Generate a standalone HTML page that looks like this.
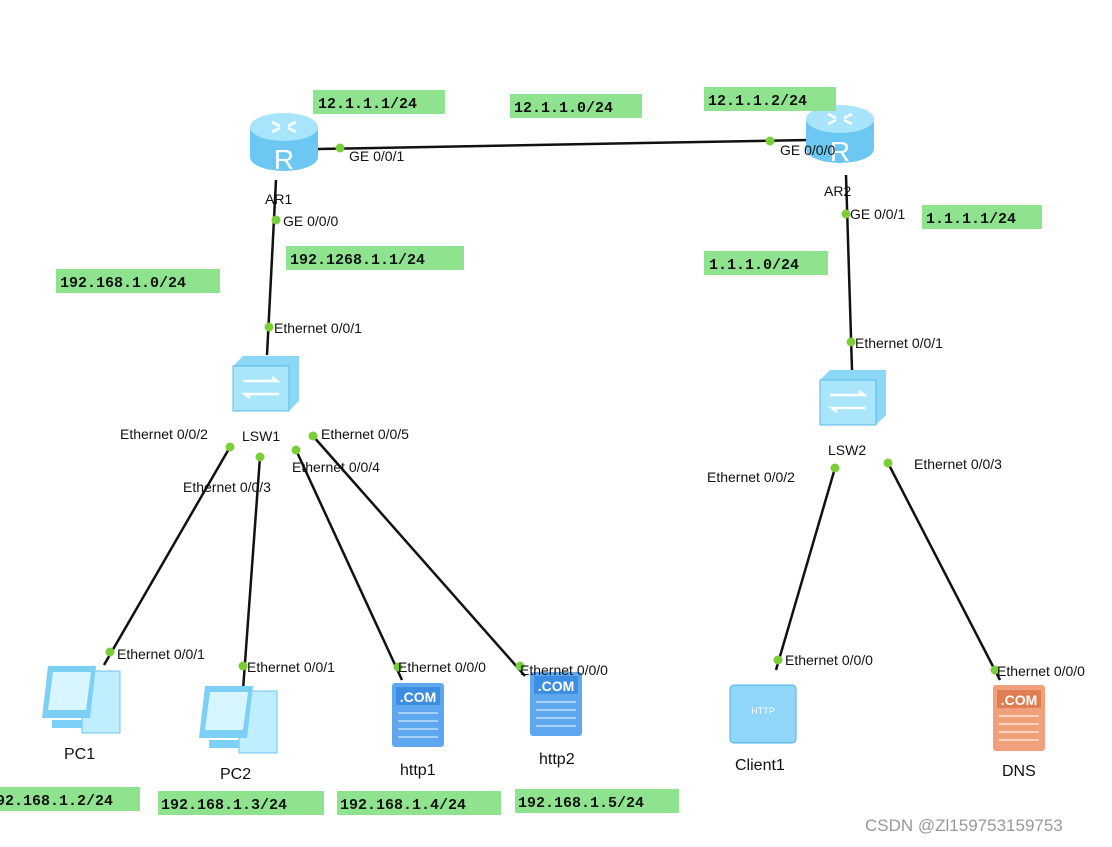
<!DOCTYPE html>
<html><head><meta charset="utf-8"><style>
body{margin:0;background:#fff;width:1112px;height:842px;overflow:hidden}
svg text{font-family:"Liberation Sans",sans-serif;font-size:14px;fill:#111}
.g{fill:#8fe38f}
.m{font-family:"Liberation Mono",monospace!important;font-size:15px!important;font-weight:bold}
</style></head><body>
<svg width="1112" height="842" xmlns="http://www.w3.org/2000/svg">
<defs>
<g id="router">
<path d="M0 15 L0 45 A34 14 0 0 0 68 45 L68 15 Z" fill="#6cc7f2"/>
<ellipse cx="34" cy="15" rx="34" ry="14" fill="#a8e4fb"/>
<text x="34" y="57" text-anchor="middle" style="font-size:28px;fill:#fff">R</text>
<path d="M22 10 l8 4 M46 10 l-8 4 M22 20 l8-4 M46 20 l-8-4" stroke="#fff" stroke-width="2.5"/>
</g>
<g id="sw">
<path d="M0 10 L10 0 L66 0 L66 45 L56 55 L0 55Z" fill="#8ad8f6"/>
<rect x="0" y="10" width="56" height="45" fill="#a9e6fb" stroke="#5cb8e8"/>
<path d="M10 25 h34 l-5-4 M46 38 h-34 l5 4" stroke="#fff" stroke-width="2.5" fill="none"/>
</g>
<g id="pc">
<rect x="40" y="5" width="38" height="62" fill="#bfeeff" stroke="#6cc3ee"/>
<path d="M6 0 L54 0 L48 52 L0 52Z" fill="#7ccff5"/>
<path d="M11 6 L49 6 L44 44 L6 44Z" fill="#d8f6ff"/>
<rect x="10" y="54" width="30" height="8" fill="#7ccff5"/>
</g>
<g id="srv">
<rect x="0" y="0" width="52" height="64" rx="3" fill="#5fa8f0"/>
<rect x="4" y="4" width="44" height="18" fill="#3d8ee0"/>
<text x="26" y="19" text-anchor="middle" style="font-size:14px;fill:#fff;font-weight:bold">.COM</text>
<path d="M6 30 h40 M6 38 h40 M6 46 h40 M6 54 h40" stroke="#a8d2fb" stroke-width="2"/>
</g>
</defs>
<g stroke="#111" stroke-width="2.5">
<line x1="318" y1="149" x2="808" y2="140"/>
<line x1="276" y1="180" x2="267" y2="355"/>
<line x1="846" y1="175" x2="852" y2="370"/>
<line x1="230" y1="447" x2="104" y2="665"/>
<line x1="260" y1="457" x2="243" y2="690"/>
<line x1="296" y1="450" x2="402" y2="680"/>
<line x1="313" y1="436" x2="525" y2="676"/>
<line x1="835" y1="468" x2="776" y2="670"/>
<line x1="888" y1="463" x2="1000" y2="680"/>
</g>
<use href="#router" x="250" y="112"/>
<use href="#router" x="806" y="104"/>
<use href="#sw" x="233" y="356"/>
<use href="#sw" x="820" y="370"/>
<use href="#pc" x="42" y="666"/>
<use href="#pc" x="199" y="686"/>
<use href="#srv" x="392" y="683"/>
<use href="#srv" x="530" y="672"/>
<rect x="730" y="685" width="66" height="58" rx="4" fill="#8fd6f8" stroke="#4eaee8"/>
<text x="763" y="714" text-anchor="middle" style="font-size:9px;fill:#fff">HTTP</text>
<rect x="993" y="685" width="52" height="66" rx="3" fill="#f0a07a"/>
<rect x="997" y="690" width="44" height="18" fill="#e07d52"/>
<text x="1019" y="705" text-anchor="middle" style="font-size:14px;fill:#fff;font-weight:bold">.COM</text>
<path d="M999 716 h40 M999 724 h40 M999 732 h40 M999 740 h40" stroke="#fbd2bc" stroke-width="2"/>
<g fill="#7ccd3a">
<circle cx="340" cy="148" r="4.5"/><circle cx="770" cy="141" r="4.5"/>
<circle cx="276" cy="220" r="4.5"/><circle cx="846" cy="214" r="4.5"/>
<circle cx="269" cy="327" r="4.5"/><circle cx="851" cy="342" r="4.5"/>
<circle cx="230" cy="447" r="4.5"/><circle cx="260" cy="457" r="4.5"/>
<circle cx="296" cy="450" r="4.5"/><circle cx="313" cy="436" r="4.5"/>
<circle cx="835" cy="468" r="4.5"/><circle cx="888" cy="463" r="4.5"/>
<circle cx="110" cy="652" r="4.5"/><circle cx="243" cy="666" r="4.5"/>
<circle cx="398" cy="667" r="4.5"/><circle cx="520" cy="666" r="4.5"/>
<circle cx="778" cy="660" r="4.5"/><circle cx="995" cy="670" r="4.5"/>
</g>
<g class="g">
<rect x="313" y="90" width="132" height="24"/><rect x="510" y="94" width="132" height="24"/>
<rect x="704" y="87" width="132" height="24"/><rect x="286" y="246" width="178" height="24"/>
<rect x="56" y="269" width="164" height="24"/><rect x="922" y="205" width="120" height="24"/>
<rect x="704" y="251" width="124" height="24"/>
<rect x="0" y="787" width="140" height="24"/><rect x="158" y="791" width="166" height="24"/>
<rect x="337" y="791" width="164" height="24"/><rect x="515" y="789" width="164" height="24"/>
</g>
<g>
<text class="m" x="318" y="108">12.1.1.1/24</text>
<text class="m" x="514" y="112">12.1.1.0/24</text>
<text class="m" x="708" y="105">12.1.1.2/24</text>
<text class="m" x="290" y="264">192.1268.1.1/24</text>
<text class="m" x="60" y="287">192.168.1.0/24</text>
<text class="m" x="926" y="223">1.1.1.1/24</text>
<text class="m" x="709" y="269">1.1.1.0/24</text>
<text class="m" x="-4" y="805">92.168.1.2/24</text>
<text class="m" x="161" y="809">192.168.1.3/24</text>
<text class="m" x="340" y="809">192.168.1.4/24</text>
<text class="m" x="518" y="807">192.168.1.5/24</text>
<text x="349" y="161">GE 0/0/1</text>
<text x="780" y="155">GE 0/0/0</text>
<text x="265" y="204">AR1</text>
<text x="824" y="196">AR2</text>
<text x="283" y="226">GE 0/0/0</text>
<text x="850" y="219">GE 0/0/1</text>
<text x="274" y="333">Ethernet 0/0/1</text>
<text x="855" y="348">Ethernet 0/0/1</text>
<text x="242" y="441">LSW1</text>
<text x="828" y="455">LSW2</text>
<text x="120" y="439">Ethernet 0/0/2</text>
<text x="321" y="439">Ethernet 0/0/5</text>
<text x="292" y="472">Ethernet 0/0/4</text>
<text x="183" y="492">Ethernet 0/0/3</text>
<text x="707" y="482">Ethernet 0/0/2</text>
<text x="914" y="469">Ethernet 0/0/3</text>
<text x="117" y="659">Ethernet 0/0/1</text>
<text x="247" y="672">Ethernet 0/0/1</text>
<text x="398" y="672">Ethernet 0/0/0</text>
<text x="520" y="675">Ethernet 0/0/0</text>
<text x="785" y="665">Ethernet 0/0/0</text>
<text x="997" y="676">Ethernet 0/0/0</text>
<text x="64" y="759" style="font-size:16px">PC1</text>
<text x="220" y="779" style="font-size:16px">PC2</text>
<text x="400" y="775" style="font-size:16px">http1</text>
<text x="539" y="764" style="font-size:16px">http2</text>
<text x="735" y="770" style="font-size:16px">Client1</text>
<text x="1002" y="776" style="font-size:16px">DNS</text>
<text x="865" y="831" style="font-size:17px;fill:#999">CSDN @Zl159753159753</text>
</g>
</svg>
</body></html>
